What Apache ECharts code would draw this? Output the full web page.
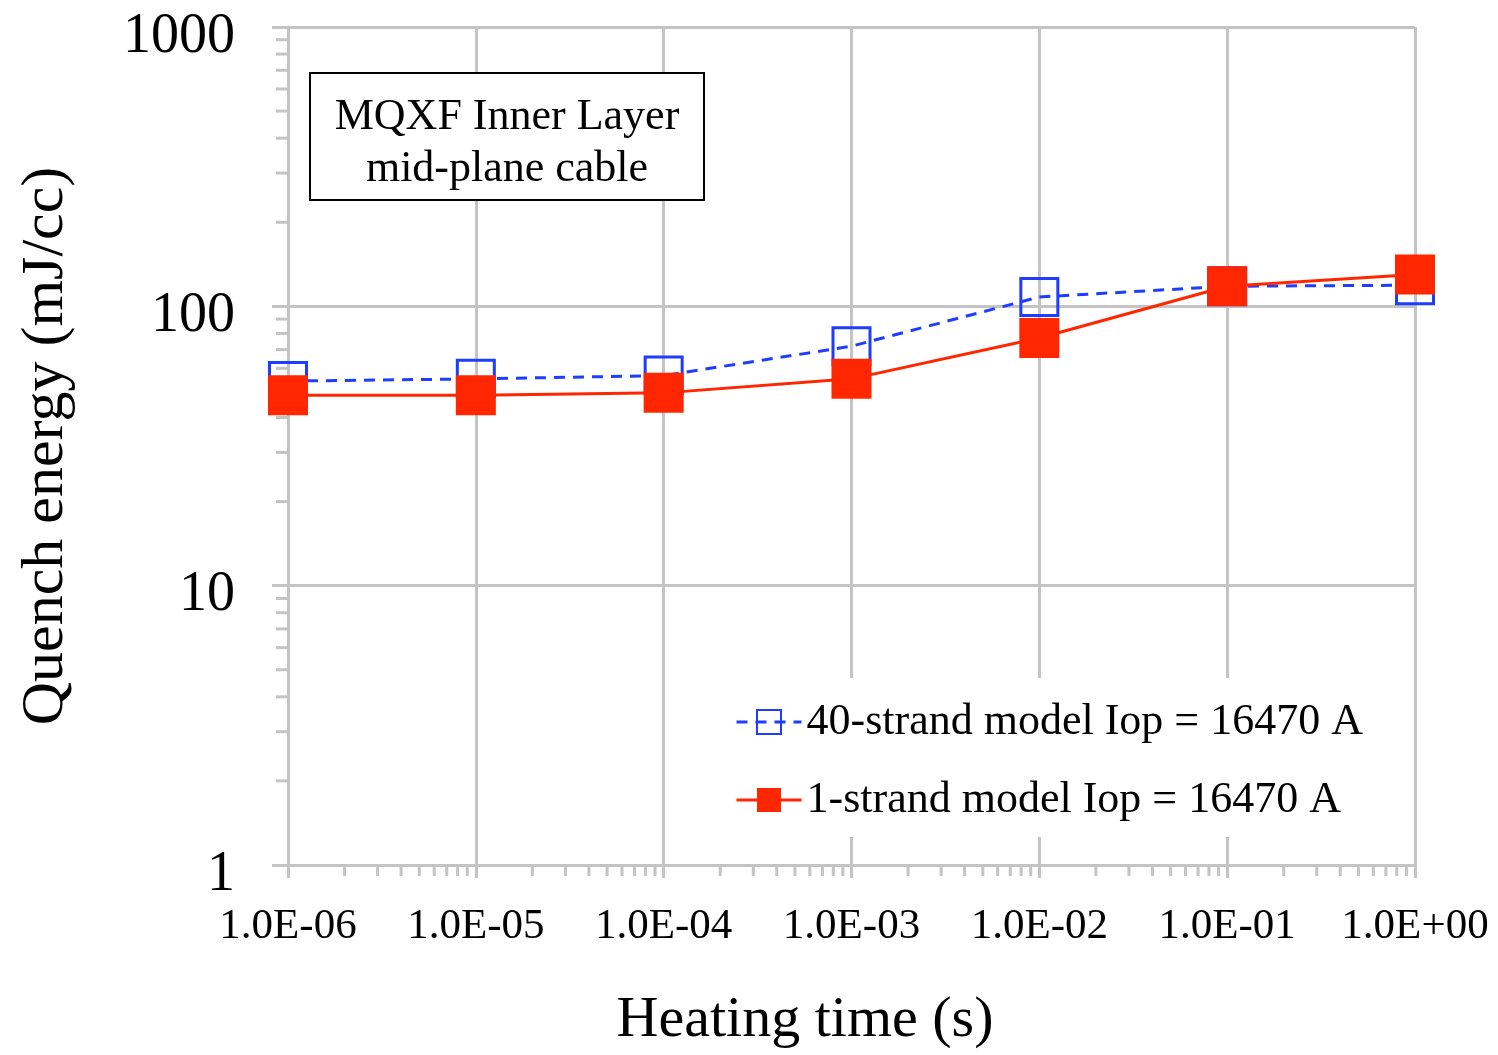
<!DOCTYPE html>
<html>
<head>
<meta charset="utf-8">
<script src="https://cdn.jsdelivr.net/npm/echarts@6/dist/echarts.min.js"></script>
<style>
html,body{margin:0;padding:0;background:#fff;}
#chart{width:1498px;height:1055px;}
</style>
</head>
<body>
<div id="chart"></div>
<script>
// ---- data ----
const heatingTimes = [1e-6, 1e-5, 1e-4, 1e-3, 1e-2, 1e-1, 1];
const strand40 = [54, 55, 56.5, 72, 108, 118, 119];
const strand1 = [48, 48, 49, 55, 77, 118, 130];
const seriesNames = ['40-strand model Iop = 16470 A', '1-strand model Iop = 16470 A'];
const xTickLabels = ['1.0E-06', '1.0E-05', '1.0E-04', '1.0E-03', '1.0E-02', '1.0E-01', '1.0E+00'];
const yTickLabels = ['1', '10', '100', '1000'];
const xDecades = [1e-6, 1e-5, 1e-4, 1e-3, 1e-2, 1e-1];
const yDecades = [1, 10, 100];
const minorSteps = [2, 3, 4, 5, 6, 7, 8, 9];
const annotationLines = ['MQXF Inner Layer', 'mid-plane cable'];

const FONT = 'Liberation Serif';
const GRID_COLOR = '#c4c4c4';
const BLUE = '#1f3dff';
const RED = '#ff2600';
const X_MIN = 1e-6, X_MAX = 1, Y_MIN = 1, Y_MAX = 1000;

const xMinor = [];
xDecades.forEach(d => minorSteps.forEach(k => xMinor.push([k * d, Y_MIN])));
const yMinor = [];
yDecades.forEach(d => minorSteps.forEach(k => yMinor.push([X_MIN, k * d])));

function xLabel(v) {
  const i = Math.round(Math.log10(v) - Math.log10(X_MIN));
  return xTickLabels[i] !== undefined ? xTickLabels[i] : '';
}
function yLabel(v) {
  const i = Math.round(Math.log10(v) - Math.log10(Y_MIN));
  return yTickLabels[i] !== undefined ? '{v|' + yTickLabels[i] + '}' : '';
}

const chart = echarts.init(document.getElementById('chart'));
chart.setOption({
  animation: false,
  backgroundColor: '#fff',
  grid: { left: 288, right: 83, top: 27, bottom: 185, containLabel: false },
  xAxis: {
    type: 'log', logBase: 10, min: X_MIN, max: X_MAX,
    name: 'Heating time (s)', nameLocation: 'middle', nameGap: 127,
    nameTextStyle: { fontFamily: FONT, fontSize: 58, color: '#000', padding: [0, 93, 0, 0] },
    axisLine: { show: true, lineStyle: { color: GRID_COLOR, width: 3 } },
    axisTick: { show: true, length: 13, lineStyle: { color: GRID_COLOR, width: 3 } },
    axisLabel: { fontFamily: FONT, fontSize: 43, color: '#000', margin: 40, formatter: xLabel },
    splitLine: { show: true, lineStyle: { color: GRID_COLOR, width: 3 } },
    minorTick: { show: false }
  },
  yAxis: {
    type: 'log', logBase: 10, min: Y_MIN, max: Y_MAX,
    name: 'Quench energy (mJ/cc)', nameLocation: 'middle', nameGap: 212,
    nameTextStyle: { fontFamily: FONT, fontSize: 60, color: '#000' },
    axisLine: { show: true, lineStyle: { color: GRID_COLOR, width: 3 } },
    axisTick: { show: true, length: 16, lineStyle: { color: GRID_COLOR, width: 3 } },
    axisLabel: {
      fontFamily: FONT, fontSize: 56, color: '#000', margin: 53, formatter: yLabel,
      rich: { v: { fontFamily: FONT, fontSize: 56, color: '#000', padding: [20, 0, 0, 0] } }
    },
    splitLine: { show: true, lineStyle: { color: GRID_COLOR, width: 3 } }
  },
  legend: {
    data: seriesNames,
    orient: 'vertical',
    left: 720, top: 678,
    padding: [22, 40, 15, 15],
    itemGap: 34,
    itemWidth: 65, itemHeight: 30,
    backgroundColor: '#fff',
    lineStyle: { width: 3 },
    textStyle: { fontFamily: FONT, fontSize: 44, color: '#000', lineHeight: 44 }
  },
  graphic: [{
    type: 'rect', z: 100,
    shape: { x: 310, y: 73, width: 394, height: 127 },
    style: { fill: '#fff', stroke: '#000', lineWidth: 2 }
  }, {
    type: 'text', z: 101,
    x: 507, y: 143,
    style: {
      text: annotationLines.join('\n'),
      fontFamily: FONT, fontSize: 44, lineHeight: 52,
      fill: '#000', align: 'center', verticalAlign: 'middle'
    }
  }],
  series: [{
    name: 'xMinorTicks', type: 'custom', silent: true, clip: false, z: 1,
    data: xMinor,
    renderItem: function (params, api) {
      const p = api.coord([api.value(0), api.value(1)]);
      return { type: 'line', shape: { x1: p[0], y1: p[1], x2: p[0], y2: p[1] + 11 },
        style: { stroke: GRID_COLOR, lineWidth: 3 } };
    }
  }, {
    name: 'yMinorTicks', type: 'custom', silent: true, clip: false, z: 1,
    data: yMinor,
    renderItem: function (params, api) {
      const p = api.coord([api.value(0), api.value(1)]);
      return { type: 'line', shape: { x1: p[0] - 12, y1: p[1], x2: p[0], y2: p[1] },
        style: { stroke: GRID_COLOR, lineWidth: 3 } };
    }
  }, {
    name: seriesNames[0], type: 'line', z: 3,
    data: heatingTimes.map((x, i) => [x, strand40[i]]),
    symbol: 'rect', symbolSize: 37,
    lineStyle: { color: BLUE, width: 3, type: [11, 8] },
    itemStyle: { color: 'rgba(255,255,255,0)', borderColor: BLUE, borderWidth: 3 }
  }, {
    name: seriesNames[1], type: 'line', z: 4,
    data: heatingTimes.map((x, i) => [x, strand1[i]]),
    symbol: 'rect', symbolSize: 40,
    lineStyle: { color: RED, width: 3 },
    itemStyle: { color: RED, borderColor: RED, borderWidth: 0 }
  }]
});
</script>
</body>
</html>
